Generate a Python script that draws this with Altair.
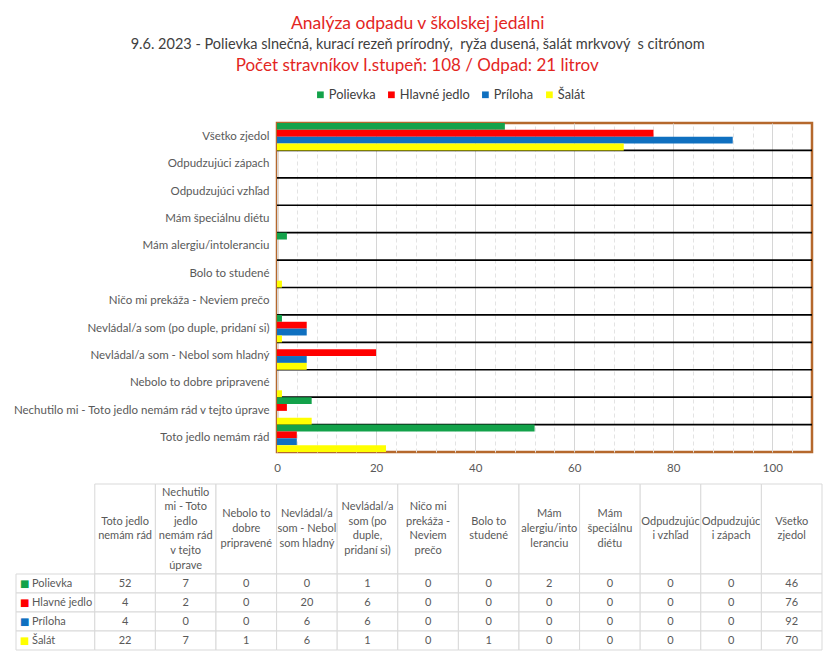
import altair as alt
import pandas as pd

# ---------------- data ----------------
categories = [
    "Toto jedlo nemám rád",
    "Nechutilo mi -  Toto jedlo nemám rád v tejto úprave",
    "Nebolo to dobre pripravené",
    "Nevládal/a som - Nebol som hladný",
    "Nevládal/a som (po duple, pridaní si)",
    "Ničo mi prekáža - Neviem prečo",
    "Bolo to studené",
    "Mám alergiu/intoleranciu",
    "Mám špeciálnu diétu",
    "Odpudzujúci vzhľad",
    "Odpudzujúci zápach",
    "Všetko zjedol",
]
header_labels = [
    "Toto jedlo\nnemám rád",
    "Nechutilo\nmi -  Toto\njedlo\nnemám rád\nv tejto\núprave",
    "Nebolo to\ndobre\npripravené",
    "Nevládal/a\nsom - Nebol\nsom hladný",
    "Nevládal/a\nsom (po\nduple,\npridaní si)",
    "Ničo mi\nprekáža -\nNeviem\nprečo",
    "Bolo to\nstudené",
    "Mám\nalergiu/into\nleranciu",
    "Mám\nšpeciálnu\ndiétu",
    "Odpudzujúc\ni vzhľad",
    "Odpudzujúc\ni zápach",
    "Všetko\nzjedol",
]
series = ["Polievka", "Hlavné jedlo", "Príloha", "Šalát"]
colors = ["#13A24A", "#FF0000", "#0F70C0", "#FFFF00"]

polievka = [52, 7, 0, 0, 1, 0, 0, 2, 0, 0, 0, 46]
hlavne_jedlo = [4, 2, 0, 20, 6, 0, 0, 0, 0, 0, 0, 76]
priloha = [4, 0, 0, 6, 6, 0, 0, 0, 0, 0, 0, 92]
salat = [22, 7, 1, 6, 1, 0, 1, 0, 0, 0, 0, 70]
series_values = [polievka, hlavne_jedlo, priloha, salat]

axis_max = 108  # number of diners

title_text = "Analýza odpadu v školskej jedálni"
subtitle_text = "9.6. 2023 - Polievka slnečná, kurací rezeň prírodný, \u00a0ryža dusená, šalát mrkvový \u00a0s citrónom"
line3_text = "Počet stravníkov I.stupeň: 108 / Odpad: 21 litrov"

# ---------------- styles ----------------
FONT = "Lato"
GRAY = "#595959"
RED = "#E3261F"
BROWN = "#B5682C"
CELL = "#D9D9D9"

bar_order = categories[::-1]

rows = []
for s, vals in zip(series, series_values):
    for c, v in zip(categories, vals):
        rows.append({"cat": c, "series": s, "value": v})
df = pd.DataFrame(rows)

x_axis = alt.Axis(
    values=list(range(0, axis_max, 4)),
    labelExpr="datum.value % 20 === 0 ? datum.label : ''",
    labelOverlap=False,
    labelFlush=False,
    ticks=False,
    domain=False,
    grid=True,
    gridColor={"condition": {"test": "datum.value % 20 === 0", "value": "#D6D6D6"}, "value": "#E3E3E3"},
    gridDash={"condition": {"test": "datum.value % 20 === 0", "value": []}, "value": [4, 3]},
    labelColor=GRAY,
    labelFont=FONT,
    labelFontSize=11.5,
    labelPadding=10,
    title=None,
)
y_axis = alt.Axis(
    title=None,
    ticks=False,
    domain=False,
    grid=False,
    labelColor=GRAY,
    labelFont=FONT,
    labelFontSize=11.5,
    labelPadding=8,
    labelLimit=400,
)

color_scale = alt.Scale(domain=series, range=colors)

bars = alt.Chart(df).mark_bar().encode(
    y=alt.Y("cat:N", sort=bar_order, scale=alt.Scale(paddingInner=0, paddingOuter=0), axis=y_axis),
    yOffset=alt.YOffset("series:N", sort=series),
    x=alt.X("value:Q", scale=alt.Scale(domain=[0, axis_max], nice=False, zero=True), axis=x_axis),
    color=alt.Color(
        "series:N",
        sort=series,
        scale=color_scale,
        legend=alt.Legend(
            title=None,
            orient="none",
            direction="horizontal",
            legendX=37,
            legendY=-35,
            symbolType="square",
            symbolSize=45,
            symbolStrokeWidth=0,
            labelFont=FONT,
            labelFontSize=12.8,
            labelColor="#404040",
            labelOffset=2,
            columnPadding=9,
        ),
    ),
)

rule_df = pd.DataFrame({"cat": bar_order[1:]})
rules = alt.Chart(rule_df).mark_rule(color="black", strokeWidth=1.6).encode(
    y=alt.Y("cat:N", sort=bar_order, bandPosition=0)
)

bar_chart = alt.layer(rules, bars).properties(
    width=535,
    height=329,
    title=alt.TitleParams(
        line3_text, color=RED, font=FONT, fontSize=17, fontWeight="normal",
        anchor="middle", frame="bounds", offset=13, dx=6,
    ),
    view=alt.ViewBackground(stroke=BROWN, strokeWidth=2.5),
)

# ---------------- data table ----------------
LABEL_W = 1.3          # width of the row-label column, in data-column units
ROW_PX = 19            # body row height in px
HEADER_PX = 90         # header row height in px
LINE_PX = 14.6         # header text line height
HEADER_H = HEADER_PX / ROW_PX
TABLE_LEFT = -261      # table starts left of the bar plot origin
TABLE_W = 545
n = len(categories)

cells = []
for i, h in enumerate(header_labels):
    cells.append({"x0": i, "x1": i + 1, "y0": -HEADER_H, "y1": 0, "txt": h, "kind": "header", "series": ""})
for r, (s, vals) in enumerate(zip(series, series_values)):
    cells.append({"x0": -LABEL_W, "x1": 0, "y0": r, "y1": r + 1, "txt": s, "kind": "label", "series": s})
    for i, v in enumerate(vals):
        cells.append({"x0": i, "x1": i + 1, "y0": r, "y1": r + 1, "txt": str(v), "kind": "value", "series": s})
cells_df = pd.DataFrame(cells)

xs = alt.Scale(domain=[-LABEL_W, n], range=[TABLE_LEFT, TABLE_W], nice=False, zero=False)
ys = alt.Scale(domain=[-HEADER_H, len(series)], nice=False, zero=False, reverse=True)

base = alt.Chart(cells_df).transform_calculate(
    xc="(datum.x0 + datum.x1) / 2",
    nl="split(datum.txt, '\\n').length",
).transform_calculate(
    yc=f"(datum.y0 + datum.y1) / 2 - (datum.nl - 1) * {LINE_PX / ROW_PX} / 2",
)

rects = base.mark_rect(fill="white", stroke=CELL, strokeWidth=1).encode(
    x=alt.X("x0:Q", scale=xs, axis=None), x2="x1:Q",
    y=alt.Y("y0:Q", scale=ys, axis=None), y2="y1:Q",
)
center_text = base.transform_filter("datum.kind !== 'label'").mark_text(
    font=FONT, fontSize=11, color=GRAY, lineBreak="\n", lineHeight=LINE_PX,
    align="center", baseline="middle",
).encode(x=alt.X("xc:Q", scale=xs, axis=None), y=alt.Y("yc:Q", scale=ys, axis=None), text="txt:N")
label_text = base.transform_filter("datum.kind === 'label'").mark_text(
    font=FONT, fontSize=11, color=GRAY, align="left", baseline="middle", dx=16,
).encode(x=alt.X("x0:Q", scale=xs, axis=None), y=alt.Y("yc:Q", scale=ys, axis=None), text="txt:N")
square_text = base.transform_filter("datum.kind === 'label'").mark_text(
    font="DejaVu Sans", fontSize=10, align="left", baseline="middle", dx=4, text="■",
).encode(
    x=alt.X("x0:Q", scale=xs, axis=None), y=alt.Y("yc:Q", scale=ys, axis=None),
    color=alt.Color("series:N", scale=alt.Scale(domain=series, range=colors), legend=None),
)

table = alt.layer(rects, center_text, label_text, square_text).properties(
    width=TABLE_W, height=HEADER_PX + ROW_PX * len(series),
    view=alt.ViewBackground(stroke="transparent"),
)

chart = alt.vconcat(bar_chart, table, spacing=8).properties(
    title=alt.TitleParams(
        title_text, subtitle=subtitle_text, color=RED, font=FONT, fontSize=17.5,
        fontWeight="normal", subtitleColor="#404040", subtitleFont=FONT,
        subtitleFontSize=14.5, subtitlePadding=6, anchor="middle", offset=4, dx=2,
    ),
    padding={"left": 0, "top": 6, "right": 5, "bottom": 2},
    background="white",
).resolve_scale(color="independent").resolve_legend(color="independent")

chart.save("out.html", embed_options={"renderer": "svg", "actions": False})
